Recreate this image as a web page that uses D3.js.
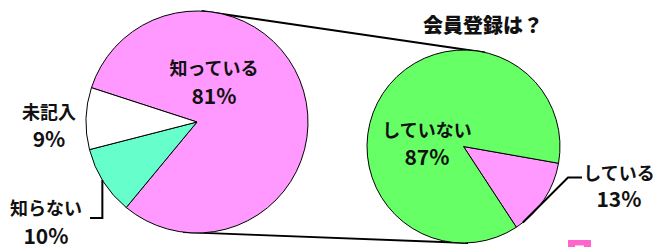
<!DOCTYPE html>
<html>
<head>
<meta charset="utf-8">
<script src="https://cdn.jsdelivr.net/npm/d3@7"></script>
<style>
  body { margin: 0; background: #fff; }
  text { font-family: "Noto Sans CJK JP", sans-serif; fill: #111; }
</style>
</head>
<body>
<script>
const w = 654;
const h = 247;

// 知っているかどうか
const knowLabels = ["知っている", "知らない", "未記入"];
const knowValues = [81, 10, 9];
const knowColors = ["#ff99ff", "#66ffcc", "#ffffff"];

// 会員登録は？
const memberLabels = ["している", "していない"];
const memberValues = [13, 87];
const memberColors = ["#ff99ff", "#66ff66"];

const title = "会員登録は？";

const rad = (deg) => (deg * Math.PI) / 180;

const svg = d3.select("body").append("svg").attr("width", w).attr("height", h);

const left = { cx: 197, cy: 122, r: 111 };
const right = { cx: 463.5, cy: 146.5, r: 96.5 };

function pointOn(c, deg, r) {
  const a = rad(deg);
  const rr = r === undefined ? c.r : r;
  return [c.cx + rr * Math.sin(a), c.cy - rr * Math.cos(a)];
}

// connecting lines (drawn first, pies cover them)
const connectors = [
  [pointOn(left, 2.4), pointOn(right, 12.9)],
  [pointOn(left, 187.2), pointOn(right, 177.3)],
];
svg
  .selectAll(".connector")
  .data(connectors)
  .enter()
  .append("line")
  .attr("class", "connector")
  .attr("x1", (d) => d[0][0])
  .attr("y1", (d) => d[0][1])
  .attr("x2", (d) => d[1][0])
  .attr("y2", (d) => d[1][1])
  .attr("stroke", "#000")
  .attr("stroke-width", 2);

function drawPie(c, values, colors, start) {
  const pie = d3
    .pie()
    .sort(null)
    .startAngle(rad(start))
    .endAngle(rad(start + 360));
  const arc = d3.arc().innerRadius(0).outerRadius(c.r);
  const g = svg.append("g").attr("transform", `translate(${c.cx}, ${c.cy})`);
  const arcs = pie(values);
  g.selectAll("path")
    .data(arcs)
    .enter()
    .append("path")
    .attr("d", arc)
    .attr("fill", (d, i) => colors[i])
    .attr("stroke", "#000")
    .attr("stroke-width", 1);
  return arcs;
}

drawPie(left, knowValues, knowColors, -72);
drawPie(right, memberValues, memberColors, 100);

// leader lines
// 知らない
{
  const p = pointOn(left, 238.5);
  svg
    .append("path")
    .attr("d", `M${p[0]},${p[1]} L${p[0]},218 L90,218`)
    .attr("fill", "none")
    .attr("stroke", "#000")
    .attr("stroke-width", 2);
}
// している
{
  const p = pointOn(right, 142);
  svg
    .append("path")
    .attr("d", `M${p[0]},${p[1]} L568,177.5 L582,177.5`)
    .attr("fill", "none")
    .attr("stroke", "#000")
    .attr("stroke-width", 2);
}

// labels
const labels = [
  { t: knowLabels[0], v: knowValues[0], x: 214, y: 75, y2: 104 },
  { t: knowLabels[2], v: knowValues[2], x: 49, y: 119, y2: 147 },
  { t: knowLabels[1], v: knowValues[1], x: 46, y: 215, y2: 244 },
  { t: memberLabels[1], v: memberValues[1], x: 427, y: 137, y2: 165 },
  { t: memberLabels[0], v: memberValues[0], x: 619, y: 180, y2: 207 },
];
labels.forEach((d) => {
  svg
    .append("text")
    .attr("x", d.x)
    .attr("y", d.y)
    .attr("text-anchor", "middle")
    .attr("font-size", 18)
    .attr("font-weight", 700)
    .text(d.t);
  svg
    .append("text")
    .attr("x", d.x)
    .attr("y", d.y2)
    .attr("text-anchor", "middle")
    .attr("font-size", 21)
    .attr("font-weight", 700)
    .text(d.v + "%");
});

svg
  .append("text")
  .attr("x", 483)
  .attr("y", 33)
  .attr("text-anchor", "middle")
  .attr("font-size", 20)
  .attr("font-weight", 900)
  .text(title);

// small pink box at the bottom edge
svg
  .append("rect")
  .attr("x", 568)
  .attr("y", 240)
  .attr("width", 23)
  .attr("height", 10)
  .attr("fill", "#ff66cc");
svg
  .append("rect")
  .attr("x", 575)
  .attr("y", 245.5)
  .attr("width", 9)
  .attr("height", 5)
  .attr("fill", "#fff");
</script>
</body>
</html>
